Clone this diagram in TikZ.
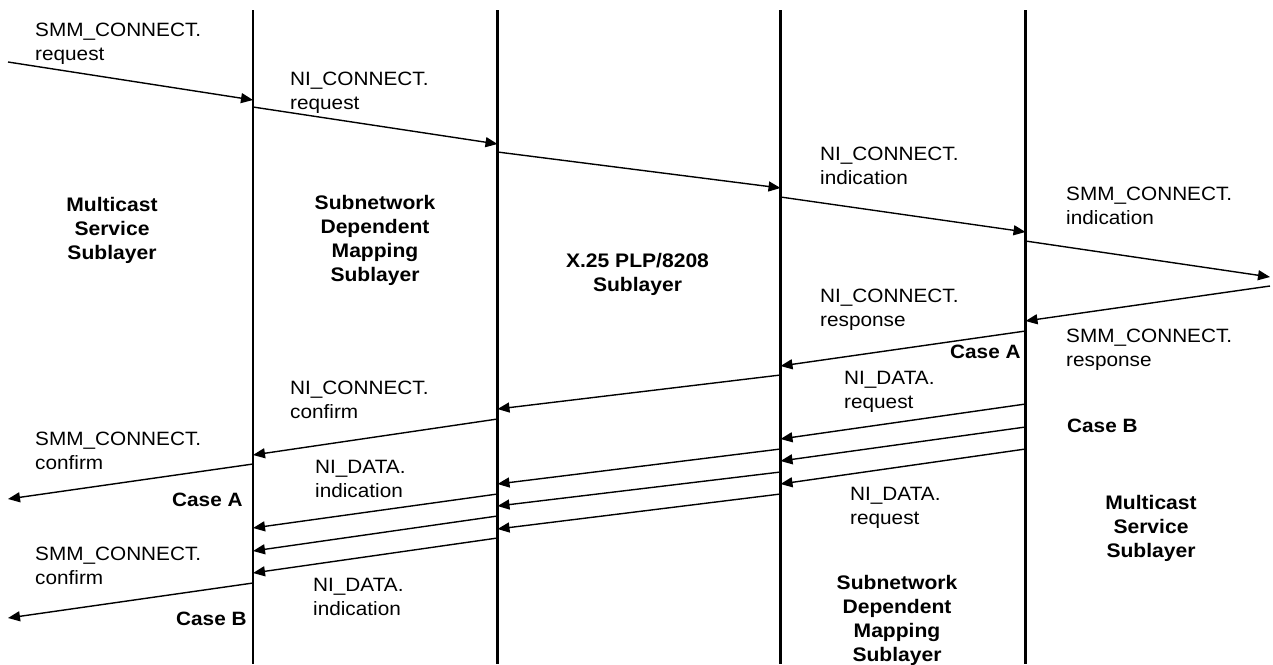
\documentclass[tikz,border=0pt]{standalone}
\usepackage{fontspec}
\setmainfont{Liberation Sans}[FakeStretch=1.075]
\usetikzlibrary{arrows.meta}
\begin{document}
\begin{tikzpicture}[x=1pt,y=-1pt,
  lifeline/.style={line width=2.2pt},
  msg/.style={line width=1.4pt,-{Triangle[length=12pt,width=10pt]}},
  lbl/.style={anchor=north west,inner sep=0pt,align=left,font=\fontsize{19.3}{24}\selectfont},
  caselbl/.style={anchor=north west,inner sep=0pt,font=\fontsize{19.3}{24}\selectfont\bfseries},
  layerlbl/.style={anchor=north,inner sep=0pt,align=center,font=\fontsize{19.6}{24}\selectfont\bfseries}]
\useasboundingbox (0,0) rectangle (1273,664);
% lifelines
\coordinate (L1t) at (253,10);   \coordinate (L1b) at (253,664);
\coordinate (L2t) at (497.5,10); \coordinate (L2b) at (497.5,664);
\coordinate (L3t) at (780.5,10); \coordinate (L3b) at (780.5,664);
\coordinate (L4t) at (1025.5,10);\coordinate (L4b) at (1025.5,664);
\foreach \i in {1,2,3,4} \draw[lifeline] (L\i t) -- (L\i b);
% free ends
\coordinate (inA) at (8,62);
\coordinate (outR) at (1270,277);
\coordinate (inR) at (1270,286);
\coordinate (outA) at (8,499);
\coordinate (outB) at (8,618);
% connect phase
\coordinate (a1) at (253,100);
\coordinate (a2s) at (253,107);   \coordinate (a2) at (497.5,144);
\coordinate (a3s) at (497.5,152); \coordinate (a3) at (780.5,188);
\coordinate (a4s) at (780.5,197); \coordinate (a4) at (1025.5,232);
\coordinate (a5s) at (1025.5,241);
\coordinate (a6) at (1025.5,321);
\coordinate (a7s) at (1025.5,331); \coordinate (a7) at (780.5,366);
\coordinate (a8s) at (780.5,375);  \coordinate (a8) at (497.5,409);
\coordinate (a9s) at (497.5,419);  \coordinate (a9) at (253,455);
\coordinate (a10s) at (253,464);
\draw[msg] (inA) -- (a1);
\draw[msg] (a2s) -- (a2);
\draw[msg] (a3s) -- (a3);
\draw[msg] (a4s) -- (a4);
\draw[msg] (a5s) -- (outR);
\draw[msg] (inR) -- (a6);
\draw[msg] (a7s) -- (a7);
\draw[msg] (a8s) -- (a8);
\draw[msg] (a9s) -- (a9);
\draw[msg] (a10s) -- (outA);
% case B data
\coordinate (b1s) at (1025.5,404); \coordinate (b1) at (780.5,439);
\coordinate (b2s) at (1025.5,427); \coordinate (b2) at (780.5,461);
\coordinate (b3s) at (1025.5,449); \coordinate (b3) at (780.5,484);
\coordinate (c1s) at (780.5,449);  \coordinate (c1) at (497.5,484);
\coordinate (c2s) at (780.5,472);  \coordinate (c2) at (497.5,506);
\coordinate (c3s) at (780.5,494);  \coordinate (c3) at (497.5,529);
\coordinate (d1s) at (497.5,494);  \coordinate (d1) at (253,528);
\coordinate (d2s) at (497.5,516);  \coordinate (d2) at (253,551);
\coordinate (d3s) at (497.5,538);  \coordinate (d3) at (253,573);
\coordinate (e1s) at (253,583);
\foreach \n in {b1,b2,b3,c1,c2,c3,d1,d2,d3} \draw[msg] (\n s) -- (\n);
\draw[msg] (e1s) -- (outB);
% message labels
\node[lbl] (t1) at (35,23) {SMM\_CONNECT.\\request};
\node[lbl] (t2) at (290,72) {NI\_CONNECT.\\request};
\node[lbl] (t3) at (820,147) {NI\_CONNECT.\\indication};
\node[lbl] (t4) at (1066,187) {SMM\_CONNECT.\\indication};
\node[lbl] (t5) at (820,289) {NI\_CONNECT.\\response};
\node[lbl] (t6) at (1066,329) {SMM\_CONNECT.\\response};
\node[caselbl] (t7) at (950,345) {Case A};
\node[lbl] (t8) at (844,371) {NI\_DATA.\\request};
\node[caselbl] (t9) at (1067,419) {Case B};
\node[lbl] (t10) at (850,487) {NI\_DATA.\\request};
\node[lbl] (t11) at (290,381) {NI\_CONNECT.\\confirm};
\node[lbl] (t12) at (35,432) {SMM\_CONNECT.\\confirm};
\node[caselbl] (t13) at (172,493) {Case A};
\node[lbl] (t14) at (315,460) {NI\_DATA.\\indication};
\node[lbl] (t15) at (35,547) {SMM\_CONNECT.\\confirm};
\node[caselbl] (t16) at (176,612) {Case B};
\node[lbl] (t17) at (313,578) {NI\_DATA.\\indication};
% layer labels
\node[layerlbl] (m1) at (112,197) {Multicast\\Service\\Sublayer};
\node[layerlbl] (s1) at (375,195) {Subnetwork\\Dependent\\Mapping\\Sublayer};
\node[layerlbl] (x1) at (637.5,253) {X.25 PLP/8208\\Sublayer};
\node[layerlbl] (m2) at (1151,495) {Multicast\\Service\\Sublayer};
\node[layerlbl] (s2) at (897,575) {Subnetwork\\Dependent\\Mapping\\Sublayer};
\end{tikzpicture}
\end{document}
